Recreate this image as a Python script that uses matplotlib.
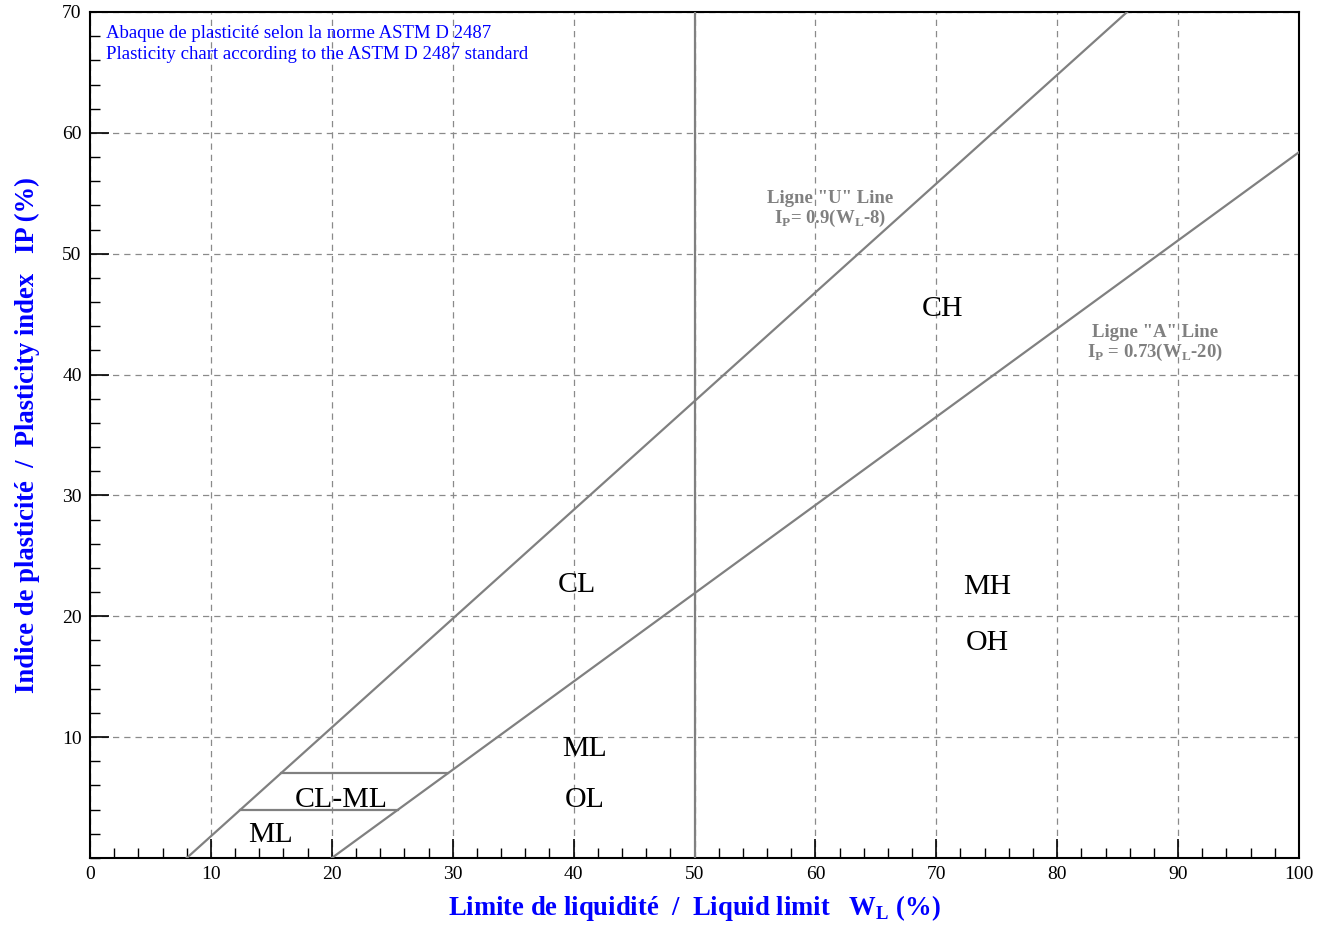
import matplotlib
matplotlib.use("Agg")
import matplotlib.pyplot as plt
import numpy as np
from matplotlib.ticker import MultipleLocator

plt.rcParams['font.family'] = ['Liberation Serif', 'DejaVu Serif']
plt.rcParams['mathtext.fontset'] = 'custom'
plt.rcParams['mathtext.rm'] = 'Liberation Serif'
plt.rcParams['mathtext.bf'] = 'Liberation Serif:bold'

# Data
u_line_wl = [8, 85.78]
u_line_ip = [0, 70]
a_line_wl = [20, 100]
a_line_ip = [0, 58.4]
clml_top_wl = [15.78, 29.59]
clml_top_ip = [7, 7]
clml_bot_wl = [12.44, 25.48]
clml_bot_ip = [4, 4]
v_line_wl = [50, 50]
v_line_ip = [0, 70]

zone_labels = ["CH", "CL", "MH", "OH", "ML", "OL", "CL-ML", "ML"]
zone_x = [70.55, 40.28, 74.19, 74.19, 40.94, 40.94, 20.76, 14.89]
zone_y = [45.42, 22.59, 22.42, 17.79, 9.02, 4.8, 4.8, 1.9]

fig = plt.figure(figsize=(13.25, 9.25), dpi=100)
ax = fig.add_axes([90/1325, 67/925, (1299-90)/1325, (858-12)/925])
ax.set_xlim(0, 100)
ax.set_ylim(0, 70)

lc = '#808080'
lw = 1.6
ax.plot(u_line_wl, u_line_ip, color=lc, lw=lw, zorder=3)
ax.plot(a_line_wl, a_line_ip, color=lc, lw=lw, zorder=3)
ax.plot(clml_top_wl, clml_top_ip, color=lc, lw=lw, zorder=3)
ax.plot(clml_bot_wl, clml_bot_ip, color=lc, lw=lw, zorder=3)
ax.plot(v_line_wl, v_line_ip, color=lc, lw=lw, zorder=3)

ax.xaxis.set_major_locator(MultipleLocator(10))
ax.xaxis.set_minor_locator(MultipleLocator(2))
ax.set_yticks([10, 20, 30, 40, 50, 60, 70])
ax.yaxis.set_minor_locator(MultipleLocator(2))
ax.grid(True, which='major', color='#8a8a8a', linestyle=(0, (5, 4)), lw=0.9)
ax.tick_params(which='major', direction='in', length=14, width=1.2, labelsize=14, colors='black', pad=6)
ax.tick_params(which='minor', direction='in', length=7, width=1.0)
for s in ax.spines.values():
    s.set_linewidth(1.5)

for lab, x, y in zip(zone_labels, zone_x, zone_y):
    ax.text(x, y, lab, fontsize=21.5, ha='center', va='center', color='black', zorder=4)

gc = '#808080'
ax.text(61.2, 54.6, 'Ligne "U" Line', fontsize=13.5, fontweight='bold', color=gc, ha='center', va='center')
ax.text(61.2, 52.9, r'I$_{\mathbf{P}}$= 0.9(W$_{\mathbf{L}}$-8)', fontsize=13.5, fontweight='bold', color=gc, ha='center', va='center')
ax.text(88.09, 43.52, 'Ligne "A" Line', fontsize=13.5, fontweight='bold', color=gc, ha='center', va='center')
ax.text(88.09, 41.8, r'I$_{\mathbf{P}}$ = 0.73(W$_{\mathbf{L}}$-20)', fontsize=13.5, fontweight='bold', color=gc, ha='center', va='center')

ax.text(1.32, 68.25, 'Abaque de plasticité selon la norme ASTM D 2487', fontsize=13.5, color='#0000ff', ha='left', va='center')
ax.text(1.32, 66.5, 'Plasticity chart according to the ASTM D 2487 standard', fontsize=13.5, color='#0000ff', ha='left', va='center')

ax.set_xlabel(r'Limite de liquidité  /  Liquid limit   W$_{\mathbf{L}}$ (%)', fontsize=19.2, fontweight='bold', color='#0000ff', labelpad=7)
ax.set_ylabel('Indice de plasticité  /  Plasticity index   IP (%)', fontsize=19.2, fontweight='bold', color='#0000ff', labelpad=16)

fig.savefig('out.png', dpi=100)
